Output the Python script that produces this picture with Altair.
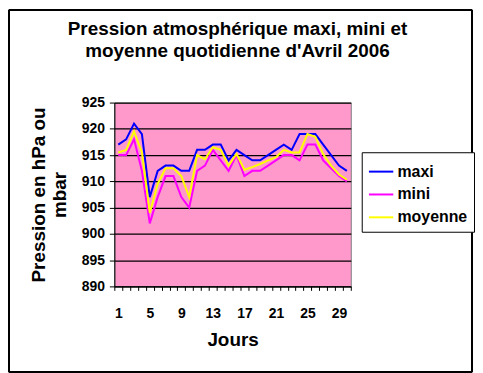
import altair as alt
import pandas as pd

jours = list(range(1, 31))
maxi = [917, 918, 921, 919, 907, 912, 913, 913, 912, 912,
        916, 916, 917, 917, 914, 916, 915, 914, 914, 915,
        916, 917, 916, 919, 919, 919, 917, 915, 913, 912]
mini = [915, 915, 918, 912, 902, 907, 911, 911, 907, 905,
        912, 913, 916, 914, 912, 915, 911, 912, 912, 913,
        914, 915, 915, 914, 917, 917, 914, 912.5, 911, 910]
moyenne = [915.5, 916, 919.5, 915.5, 904, 909.5, 912.5, 912.5, 911, 907,
           915, 914.2, 916.5, 916, 913, 915.2, 912.2, 912.7, 913.3, 914,
           914.6, 916, 915.5, 915.5, 919, 918.5, 915.2, 913, 911.3, 910.3]
series = ["maxi", "mini", "moyenne"]
colors = ["#0000FF", "#FF00FF", "#FFFF00"]
y_ticks = [890, 895, 900, 905, 910, 915, 920, 925]

rows = []
for name, vals in zip(series, [maxi, mini, moyenne]):
    for j, v in zip(jours, vals):
        rows.append({"jour": j, "pression": v, "serie": name})
df = pd.DataFrame(rows)

FONT = "Liberation Sans"
axis_style = dict(
    labelFont=FONT,
    labelFontSize=14,
    labelFontWeight="bold",
    labelColor="black",
    titleFont=FONT,
    titleFontSize=19,
    titleFontWeight="bold",
    titleColor="black",
    domainColor="black",
    tickColor="black",
)

lines = alt.Chart(df).mark_line(strokeWidth=2).encode(
    x=alt.X(
        "jour:O",
        bandPosition=0.5,
        scale=alt.Scale(type="band", paddingInner=0, paddingOuter=0),
        axis=alt.Axis(
            title="Jours",
            labelExpr="(datum.value - 1) % 4 === 0 ? datum.label : ''",
            labelAngle=0,
            tickBand="extent",
            tickSize=4,
            labelPadding=16,
            titlePadding=10,
            grid=False,
            **axis_style,
        ),
    ),
    y=alt.Y(
        "pression:Q",
        scale=alt.Scale(domain=[890, 925], nice=False, zero=False),
        axis=alt.Axis(
            title=["Pression en hPa ou", "mbar"],
            values=y_ticks,
            grid=True,
            gridColor="black",
            gridWidth=1.3,
            gridOpacity=1,
            tickSize=5,
            labelPadding=5,
            titlePadding=12,
            **axis_style,
        ),
    ),
    color=alt.Color(
        "serie:N",
        scale=alt.Scale(domain=series, range=colors),
        legend=alt.Legend(
            title=None,
            orient="none",
            legendX=249,
            legendY=50,
            symbolType="stroke",
            symbolStrokeWidth=2,
            symbolSize=600,
            labelFontSize=16,
            labelFont=FONT,
            labelFontWeight="bold",
            labelColor="black",
            strokeColor="black",
            fillColor="white",
            padding=6,
            rowPadding=1,
            labelOffset=3,
        ),
    ),
)

frame = alt.Chart(df).mark_rect(
    fill="white", fillOpacity=0, stroke="black", strokeWidth=1
).encode(
    x=alt.value(-106), x2=alt.value(360), y=alt.value(-93), y2=alt.value(271)
)

chart = alt.layer(frame, lines).properties(
    width=238,
    height=185,
    padding=0,
    background="white",
    title=alt.TitleParams(
        text=["Pression atmosphérique maxi, mini et", "moyenne quotidienne d'Avril 2006"],
        font=FONT,
        fontSize=19,
        fontWeight="bold",
        color="black",
        anchor="middle",
        frame="group",
        dx=5,
        dy=82,
        offset=30,
        lineHeight=22,
    ),
).configure_view(
    fill="#FF99CC", stroke="#808080", strokeWidth=1
)

chart.save("out.html", embed_options={"renderer": "svg", "actions": False})
